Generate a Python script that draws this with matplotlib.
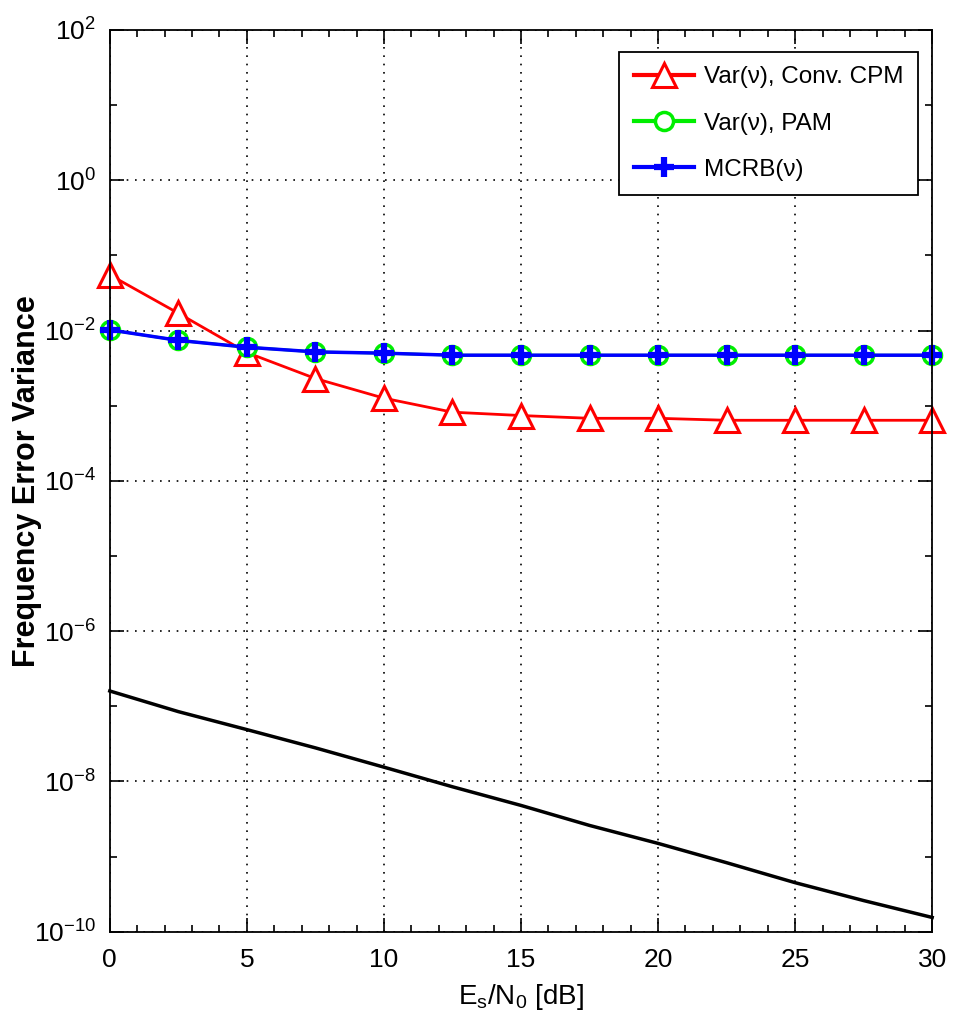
import matplotlib
matplotlib.use('Agg')
from matplotlib import pyplot as plt
from matplotlib.ticker import LogLocator, MultipleLocator, NullFormatter

plt.rcParams['font.family'] = ['Liberation Sans', 'DejaVu Sans']
plt.rcParams['mathtext.fontset'] = 'custom'
plt.rcParams['mathtext.rm'] = 'Liberation Sans'
plt.rcParams['mathtext.it'] = 'Liberation Sans'

# Es/N0 in dB
snr = [0, 2.5, 5, 7.5, 10, 12.5, 15, 17.5, 20, 22.5, 25, 27.5, 30]

# values
var_cpm = [5.5e-2, 1.7e-2, 5.1e-3, 2.3e-3, 1.26e-3, 8.2e-4, 7.4e-4,
           6.8e-4, 6.8e-4, 6.4e-4, 6.4e-4, 6.4e-4, 6.4e-4]
var_pam = [1.02e-2, 7.4e-3, 6.0e-3, 5.2e-3, 5.0e-3, 4.7e-3, 4.7e-3,
           4.7e-3, 4.7e-3, 4.7e-3, 4.7e-3, 4.7e-3, 4.7e-3]
mcrb = [1.02e-2, 7.4e-3, 6.0e-3, 5.2e-3, 5.0e-3, 4.7e-3, 4.7e-3,
        4.7e-3, 4.7e-3, 4.7e-3, 4.7e-3, 4.7e-3, 4.7e-3]
black = [1.6e-7, 8.5e-8, 4.9e-8, 2.8e-8, 1.55e-8, 8.5e-9, 4.8e-9,
         2.6e-9, 1.5e-9, 8.3e-10, 4.5e-10, 2.6e-10, 1.55e-10]

fig = plt.figure(figsize=(9.63, 10.33), dpi=100)
ax = fig.add_axes([0.114, 0.098, 0.854, 0.873])

ax.semilogy(snr, black, c='black', lw=2.5, clip_on=False)
ax.semilogy(snr, var_cpm, c='red', lw=2, marker='^', ms=17, mfc='white',
            mec='red', mew=2.2, label='Var(\u03bd), Conv. CPM', clip_on=False)
ax.semilogy(snr, var_pam, c='#00ee00', lw=2, marker='o', ms=13, mfc='white',
            mec='#00ee00', mew=2.5, label='Var(\u03bd), PAM', clip_on=False)
ax.semilogy(snr, mcrb, c='blue', lw=2.5, marker='+', ms=14, mew=4.5,
            mec='blue', label='MCRB(\u03bd)', clip_on=False)

ax.set_xlim(0, 30)
ax.set_ylim(1e-10, 1e2)
ax.xaxis.set_major_locator(MultipleLocator(5))
ax.xaxis.set_minor_locator(MultipleLocator(1))
ax.yaxis.set_major_locator(LogLocator(base=100, numticks=20))
ax.yaxis.set_minor_locator(LogLocator(base=10, subs=[1.0], numticks=30))
ax.yaxis.set_minor_formatter(NullFormatter())
ax.grid(True, which='major', color='black', linestyle=(0, (1, 4)), lw=1.2)
ax.tick_params(axis='both', which='both', direction='in', top=True, right=True)
ax.tick_params(axis='both', which='major', length=10, width=1.2, labelsize=19)
ax.tick_params(axis='x', which='major', pad=12)
ax.tick_params(axis='y', which='major', pad=10)
ax.tick_params(axis='both', which='minor', length=5, width=1.2)
for s in ax.spines.values():
    s.set_linewidth(1.3)

ax.set_xlabel('$\\mathregular{E_s/N_0}$ [dB]', fontsize=20)
ax.xaxis.set_label_coords(0.5, -0.056)
ax.set_ylabel('Frequency Error Variance', fontsize=22, fontweight='bold')
ax.yaxis.set_label_coords(-0.083, 0.5)

leg = ax.legend(loc='upper right', fontsize=17.5, fancybox=False, framealpha=1,
                edgecolor='black', handlelength=2.5, borderpad=0.6,
                labelspacing=1.0, handletextpad=0.4, borderaxespad=0,
                bbox_to_anchor=(0.983, 0.976))
leg.get_frame().set_linewidth(1.3)
for line in leg.get_lines():
    line.set_linewidth(3)

fig.savefig('out.png', dpi=100)
